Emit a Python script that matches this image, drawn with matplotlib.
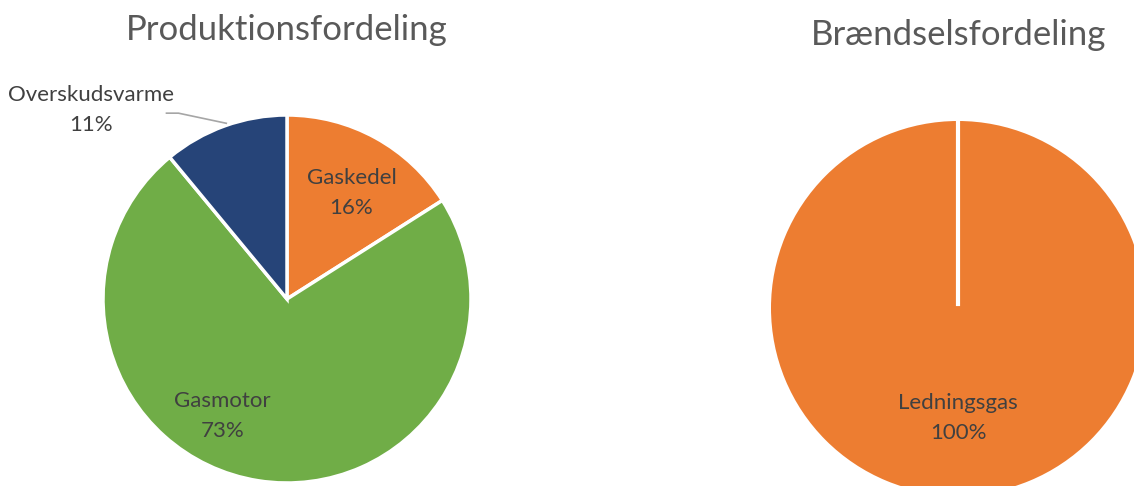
import matplotlib
matplotlib.use("Agg")
import matplotlib.pyplot as plt

# data
prod_labels = ["Gaskedel", "Gasmotor", "Overskudsvarme"]
prod_values = [16, 73, 11]
prod_colors = ["#ED7D31", "#70AD47", "#264478"]

fuel_labels = ["Ledningsgas"]
fuel_values = [100]
fuel_colors = ["#ED7D31"]

TXT = "#404040"
TITLE = "#595959"
plt.rcParams["font.family"] = ["Lato", "DejaVu Sans"]

W, H = 1134, 486
fig = plt.figure(figsize=(W / 100, H / 100), dpi=100)


def pie_axes(cx, cy, r):
    # cx, cy, r in pixels (y from top)
    return fig.add_axes([(cx - r) / W, 1 - (cy + r) / H, 2 * r / W, 2 * r / H])


# left pie
ax1 = pie_axes(287, 299, 184)
wedges, _ = ax1.pie(prod_values, colors=prod_colors, startangle=90, counterclock=False,
                    radius=1.0, wedgeprops=dict(edgecolor="white", linewidth=2.5))
ax1.set_xlim(-1, 1)
ax1.set_ylim(-1, 1)
ax1.set_aspect("equal")
ax1.axis("off")

lab_pos = {"Gaskedel": (0.35, 0.575), "Gasmotor": (-0.35, -0.635)}
for lab, val in zip(prod_labels, prod_values):
    if lab in lab_pos:
        x, y = lab_pos[lab]
        ax1.text(x, y, f"{lab}\n{val}%", ha="center", va="center", fontsize=16,
                 color=TXT, linespacing=1.65)

# outside label with leader line
ax1.plot([-0.655, -0.59, -0.33], [1.01, 1.01, 0.955], color="#A6A6A6", lw=1.2, clip_on=False)
ax1.text(-1.065, 1.027, f"{prod_labels[2]}\n{prod_values[2]}%", ha="center", va="center",
         fontsize=16, color=TXT, linespacing=1.65, clip_on=False)

fig.text(287 / W, 1 - 30 / H, "Produktionsfordeling", ha="center", va="center",
         fontsize=25, color=TITLE)

# right pie
ax2 = pie_axes(958, 308, 187)
ax2.pie(fuel_values, colors=fuel_colors, startangle=90, counterclock=False,
        wedgeprops=dict(linewidth=0))
ax2.plot([0, 0], [0.02, 1.0], color="white", lw=3)
ax2.set_xlim(-1, 1)
ax2.set_ylim(-1, 1)
ax2.set_aspect("equal")
ax2.axis("off")
ax2.text(0, -0.588, f"{fuel_labels[0]}\n{fuel_values[0]}%", ha="center", va="center",
         fontsize=16, color=TXT, linespacing=1.65)

fig.text(959 / W, 1 - 35 / H, "Brændselsfordeling", ha="center", va="center",
         fontsize=25, color=TITLE)

fig.savefig("out.png", dpi=100)
